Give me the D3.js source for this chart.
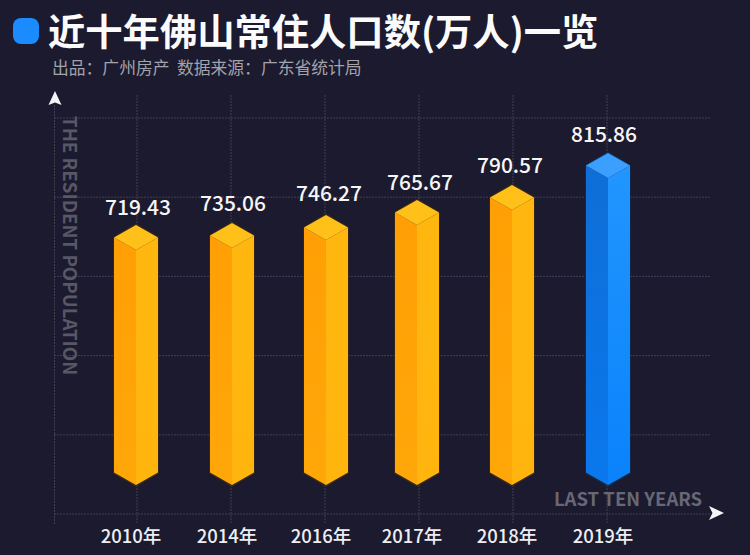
<!DOCTYPE html>
<html><head><meta charset="utf-8">
<script src="https://cdn.jsdelivr.net/npm/d3@7/dist/d3.min.js"></script>
<style>html,body{margin:0;padding:0;background:#1c1a2e;overflow:hidden}
text{font-family:"Noto Sans CJK SC","Noto Sans",sans-serif}</style></head>
<body><svg id="c" width="750" height="555"></svg>
<script>
const years = ["2010年","2014年","2016年","2017年","2018年","2019年"];
const values = [719.43,735.06,746.27,765.67,790.57,815.86];
const highlight = ["2019年"];
const gridTicks = [0,1,2,3,4,5];
const titleText = "近十年佛山常住人口数(万人)一览";
const subtitleText = "出品：广州房产  数据来源：广东省统计局";
const yAxisTitle = "THE RESIDENT POPULATION";
const xAxisTitle = "LAST TEN YEARS";

const svg = d3.select("#c");
svg.append("rect").attr("width",750).attr("height",555).attr("fill","#1c1a2e");

// the reference is not drawn to a strict linear scale, so the value scale is piecewise
const x = d3.scaleOrdinal().domain(years).range([136,232,326,417,512,608]);
const xGrid = d3.scalePoint().domain(years).range([137,607]);
const y = d3.scaleLinear().domain(values).range([225,223,215,200,185,153]);
const yGrid = d3.scaleLinear().domain([0,5]).range([514,118]);
const floorY = 485, hw = 22, rise = 12.5;

const defs = svg.append("defs");
function grad(id, a, b){
  const g = defs.append("linearGradient").attr("id",id).attr("x1",0).attr("y1",0).attr("x2",0).attr("y2",1);
  g.append("stop").attr("offset","0%").attr("stop-color",a);
  g.append("stop").attr("offset","100%").attr("stop-color",b);
}
grad("oL","#ff9f05","#ffa70a");
grad("oR","#ffb70f","#ffb50d");
grad("bL","#0f6ed6","#0a78ee");
grad("bR","#2196ff","#0a82fb");

// grid
const gridStroke = "#423f55";
const grid = svg.append("g").attr("fill","none").attr("stroke",gridStroke).attr("stroke-width",1).attr("stroke-dasharray","2 1");
grid.selectAll("line.h").data(gridTicks).join("line").attr("class","h")
  .attr("x1",54).attr("x2",710).attr("y1",d=>yGrid(d)).attr("y2",d=>yGrid(d));
grid.selectAll("line.v").data(years).join("line").attr("class","v")
  .attr("x1",d=>xGrid(d)).attr("x2",d=>xGrid(d)).attr("y1",95).attr("y2",524);
grid.append("line").attr("x1",54.5).attr("x2",54.5).attr("y1",105).attr("y2",524);

// arrows
svg.append("path").attr("d","M55 91L61.5 105L55 102.5L48.5 105Z").attr("fill","#f4f4f6");
svg.append("path").attr("d","M724 513L709 506L712.5 513L709 520Z").attr("fill","#f4f4f6");

// bars
const bars = svg.append("g").selectAll("g").data(years.map((c,i)=>({c,v:values[i]}))).join("g");
const pts = a => a.map(p=>p.join(",")).join(" ");
bars.each(function(d){
  const g = d3.select(this), cx = x(d.c), top = y(d.v), blue = highlight.includes(d.c);
  const mid = top + rise*2, side = top + rise, bot = floorY, botSide = bot - rise;
  // dark edge above the cap and below the foot
  g.append("polygon").attr("points",pts([[cx,top-1.5],[cx+hw+0.7,side-0.5],[cx+hw+0.7,botSide+1],[cx,bot+1.8],[cx-hw-0.7,botSide+1],[cx-hw-0.7,side-0.5]]))
    .attr("fill",blue?"#12304f":"#3b2a18");
  g.append("polygon").attr("points",pts([[cx-hw,side],[cx,mid],[cx,bot],[cx-hw,botSide]])).attr("fill",blue?"url(#bL)":"url(#oL)");
  g.append("polygon").attr("points",pts([[cx+hw,side],[cx,mid],[cx,bot],[cx+hw,botSide]])).attr("fill",blue?"url(#bR)":"url(#oR)");
  g.append("polygon").attr("points",pts([[cx,top],[cx+hw,side],[cx,mid],[cx-hw,side]])).attr("fill",blue?"#3a9fff":"#ffc01a");
});

// value labels
const labelDx = [2,1,3,3,-2,-4], labelDy = [10,12,14.5,10,12.5,11];
svg.append("g").selectAll("text").data(values).join("text")
  .attr("x",(d,i)=>x(years[i])+labelDx[i]).attr("y",(d,i)=>y(d)-labelDy[i])
  .attr("text-anchor","middle").attr("fill","#f6f6f8").attr("font-size",21).attr("font-weight",500)
  .text(d=>d.toFixed(2));

// x axis labels
const axis = svg.append("g").attr("transform","translate(-5.5,522)")
  .call(d3.axisBottom(x).tickSize(0).tickPadding(0));
axis.select(".domain").remove();
axis.selectAll("text").attr("fill","#eeeef2").attr("font-size",18.5).attr("font-weight",500)
  .attr("y",21).attr("dy",0).attr("font-family",'"Noto Sans CJK SC"');

// axis titles
svg.append("text").attr("transform","translate(63,116) rotate(90)").attr("fill","#585766")
  .attr("font-size",18.7).attr("font-weight",700).text(yAxisTitle);
svg.append("text").attr("x",554).attr("y",506).attr("fill","#686775")
  .attr("font-size",18.5).attr("font-weight",700).text(xAxisTitle);

// header
svg.append("rect").attr("x",13).attr("y",18).attr("width",26).attr("height",26).attr("rx",8).attr("fill","#1a8cff");
svg.append("text").attr("x",48).attr("y",46).attr("fill","#fbfbfc").attr("font-size",37.3).attr("font-weight",700).text(titleText);
svg.append("text").attr("x",52).attr("y",74).attr("fill","#a3a3ab").attr("font-size",16.8).style("white-space","pre").text(subtitleText);
</script></body></html>
